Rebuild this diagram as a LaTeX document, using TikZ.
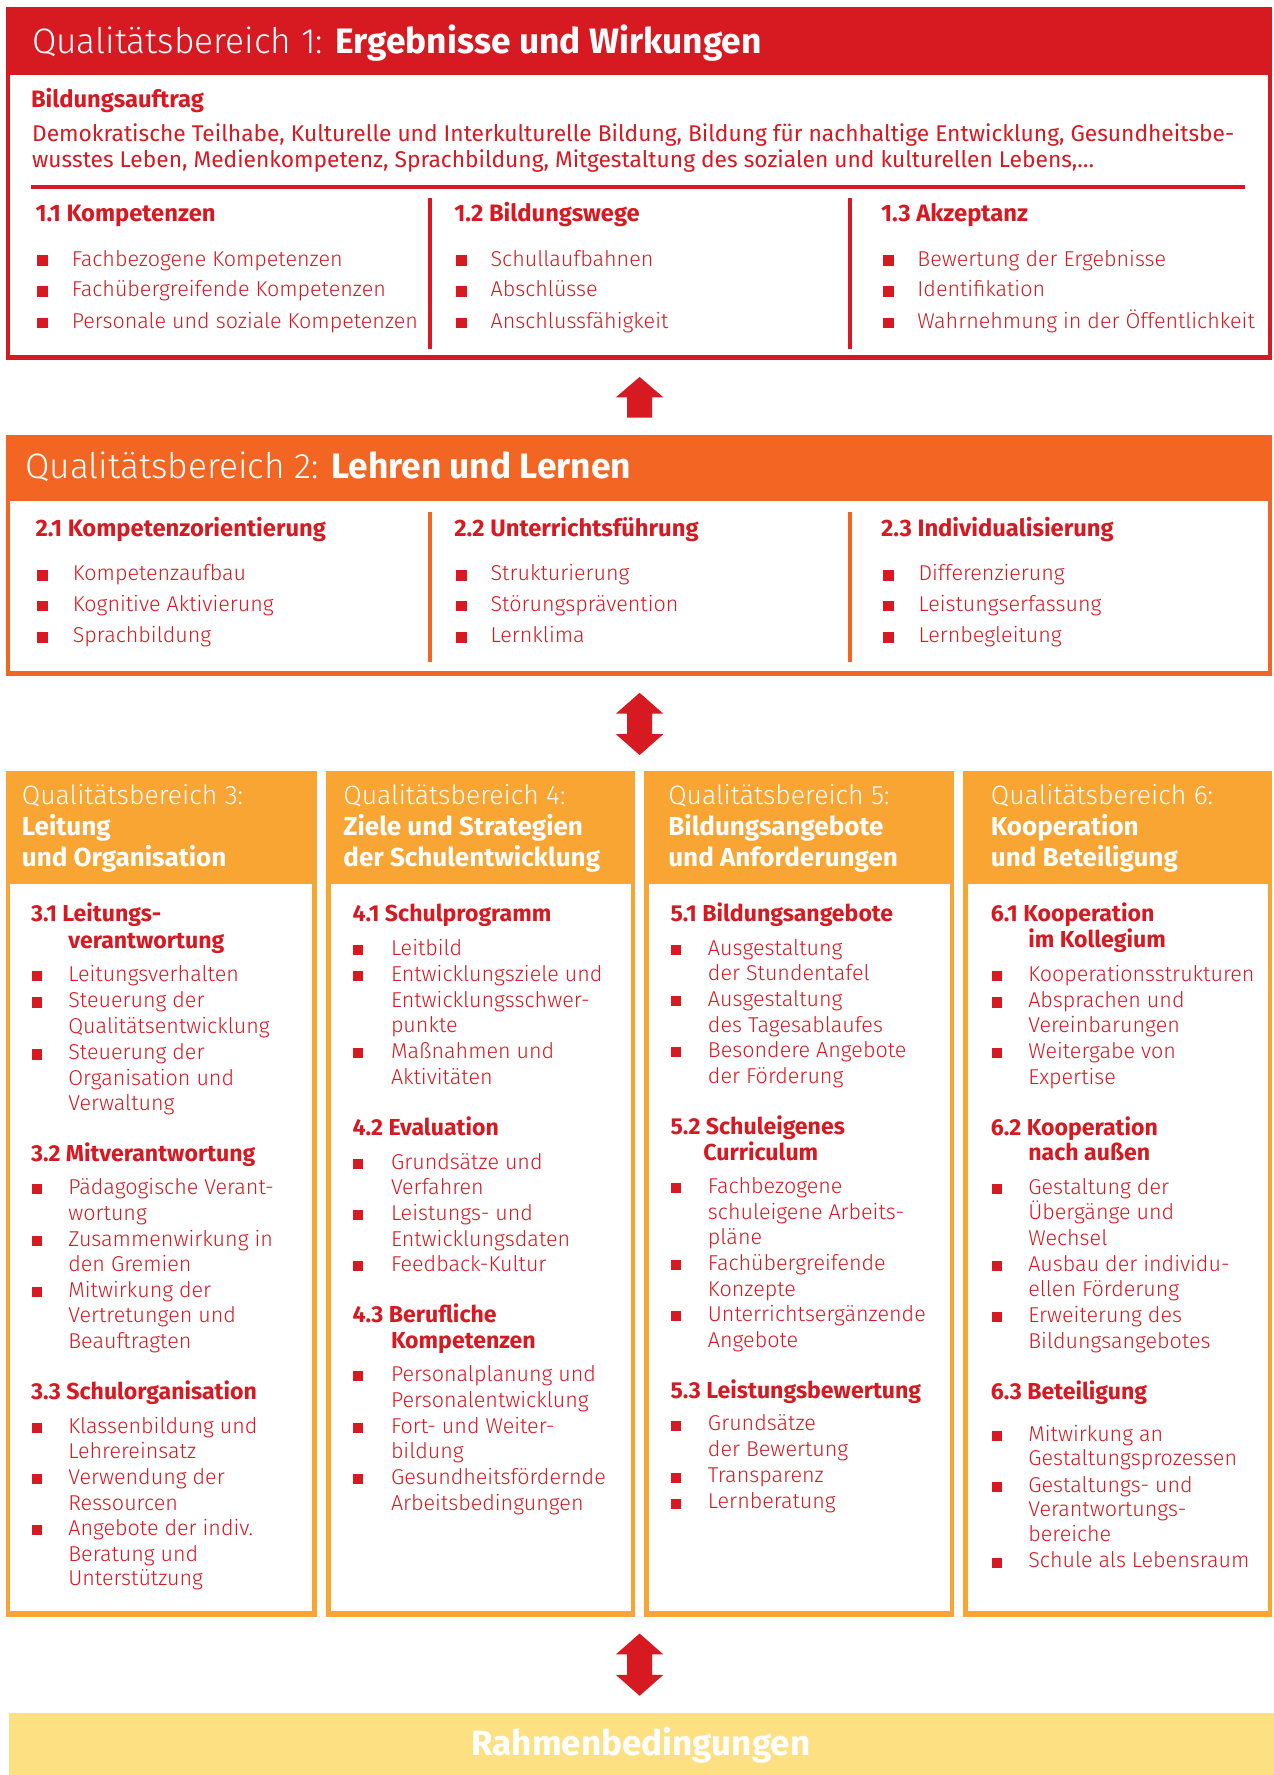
\documentclass[tikz,border=0pt]{standalone}
\usepackage{fontspec}
\setmainfont{Fira Sans}
\newfontfamily\qlight{Fira Sans Light}

\definecolor{qred}{RGB}{215,25,33}
\definecolor{qorange}{RGB}{242,101,34}
\definecolor{qamber}{RGB}{249,165,51}
\definecolor{qyellow}{RGB}{253,224,129}

\begin{document}
\begin{tikzpicture}[x=0.5pt, y=-0.5pt,
  every node/.style={inner sep=0pt, anchor=base west},
  qtitle/.style={text=white, font=\fontsize{15.6}{18}\selectfont},
  qsmalltitle/.style={text=white, font=\fontsize{11.5}{13}\selectfont\bfseries},
  qhead/.style={text=qred, font=\fontsize{10.5}{12}\selectfont\bfseries},
  qtext/.style={text=qred, font=\fontsize{9.5}{11}\selectfont\qlight},
  qsub/.style={text=qred, font=\fontsize{10.2}{12}\selectfont\bfseries},
  qitem/.style={text=qred, font=\fontsize{9.5}{11}\selectfont\qlight},
  rahmen/.style={anchor=base, text=white, font=\fontsize{15.5}{18}\selectfont\bfseries}]
\useasboundingbox (0,0) rectangle (1125,1568);

% Qualitaetsbereich 1
\fill[qred] (5,6) rectangle (1124,318);
\fill[white] (9,66) rectangle (1120,314);
\node[qtitle] (qb1) at (28,47) {{\qlight Qualitätsbereich 1:} \textbf{Ergebnisse und Wirkungen}};
\node[qhead] (auftrag) at (27,95) {Bildungsauftrag};
\node[qtext, font=\fontsize{10.05}{12}\selectfont] (auftrag1) at (28,125) {Demokratische Teilhabe, Kulturelle und Interkulturelle Bildung, Bildung für nachhaltige Entwicklung, Gesundheitsbe-};
\node[qtext, font=\fontsize{10.05}{12}\selectfont] (auftrag2) at (28,148) {wusstes Leben, Medienkompetenz, Sprachbildung, Mitgestaltung des sozialen und kulturellen Lebens,…};
\draw[qred, line width=2pt] (27,165) -- (1100,165);
\draw[qred, line width=2pt] (380,175) -- (380,308) (751,175) -- (751,308);
\node[qhead] (k11) at (31,196) {1.1 Kompetenzen};
\node[qhead] (k12) at (401,196) {1.2 Bildungswege};
\node[qhead] (k13) at (778,196) {1.3 Akzeptanz};
\foreach \x/\lbl in {63/Fachbezogene Kompetenzen, 433/Schullaufbahnen, 810/Bewertung der Ergebnisse}
  \node[qtext] (r1-\x) at (\x,235) {\lbl};
\foreach \x/\lbl in {63/Fachübergreifende Kompetenzen, 433/Abschlüsse, 810/Identifikation}
  \node[qtext] (r2-\x) at (\x,262) {\lbl};
\foreach \x/\lbl in {63/Personale und soziale Kompetenzen, 433/Anschlussfähigkeit, 810/Wahrnehmung in der Öffentlichkeit}
  \node[qtext] (r3-\x) at (\x,290) {\lbl};
\foreach \x in {33,403,780}
  \foreach \y in {235,262,290}
    \fill[qred] (\x,\y) rectangle ++(9.5,-9.5);

% Pfeil zwischen 2 und 1
\coordinate (arr1) at (565,333);
\fill[qred] (arr1) -- ++(21,18) -- ++(-10,0) -- ++(0,18) -- ++(-22,0) -- ++(0,-18) -- ++(-10,0) -- cycle;

% Qualitaetsbereich 2
\fill[qorange] (5,384) rectangle (1124,597);
\fill[white] (9,443) rectangle (1120,593);
\node[qtitle] (qb2) at (22,423) {{\qlight Qualitätsbereich 2:} \textbf{Lehren und Lernen}};
\draw[qorange, line width=2pt] (380,452) -- (380,585) (751,452) -- (751,585);
\node[qhead] (k21) at (31,474) {2.1 Kompetenzorientierung};
\node[qhead] (k22) at (401,474) {2.2 Unterrichtsführung};
\node[qhead] (k23) at (778,474) {2.3 Individualisierung};
\foreach \x/\lbl in {64/Kompetenzaufbau, 433/Strukturierung, 811/Differenzierung}
  \node[qtext] (s1-\x) at (\x,513) {\lbl};
\foreach \x/\lbl in {64/Kognitive Aktivierung, 433/Störungsprävention, 811/Leistungserfassung}
  \node[qtext] (s2-\x) at (\x,540) {\lbl};
\foreach \x/\lbl in {64/Sprachbildung, 433/Lernklima, 811/Lernbegleitung}
  \node[qtext] (s3-\x) at (\x,568) {\lbl};
\foreach \x in {33,403,780}
  \foreach \y in {513,540,568}
    \fill[qred] (\x,\y) rectangle ++(9.5,-9.5);

% Pfeile (beidseitig)
\coordinate (arr2) at (565,612);
\coordinate (arr3) at (565,1443);
\foreach \a in {arr2,arr3}
  \fill[qred] (\a) -- ++(21,18.5) -- ++(-10,0) -- ++(0,18) -- ++(10,0) -- ++(-21,18.5)
    -- ++(-21,-18.5) -- ++(10,0) -- ++(0,-18) -- ++(-10,0) -- cycle;

% Qualitaetsbereiche 3 bis 6
\foreach \x/\w in {5/280, 288/561, 569/843, 851/1124} {
  \fill[qamber] (\x,681) rectangle (\w,1428);
  \fill[white] (\x+4,781) rectangle (\w-4,1423);
}
\foreach \x/\n/\a/\b in {19/3/Leitung/und Organisation, 303/4/Ziele und Strategien/der Schulentwicklung,
    590/5/Bildungsangebote/und Anforderungen, 875/6/Kooperation/und Beteiligung} {
  \node[qsmalltitle, font=\fontsize{11.75}{13}\selectfont\qlight] (qb\n) at (\x,711) {Qualitätsbereich \n:};
  \node[qsmalltitle] (qb\n-a) at (\x,738) {\a};
  \node[qsmalltitle] (qb\n-b) at (\x,765) {\b};
}

% 3
\node[qsub] (h31) at (27,814) {3.1 Leitungs-};
\node[qsub] (h31b) at (60,838) {verantwortung};
\node[qsub] (h32) at (27,1026) {3.2 Mitverantwortung};
\node[qsub] (h33) at (27,1236) {3.3 Schulorganisation};
\foreach \y/\lbl in {867/Leitungsverhalten, 890/Steuerung der, 913/Qualitätsentwicklung, 936/Steuerung der,
    959/Organisation und, 981/Verwaltung, 1055/Pädagogische Verant-, 1078/wortung, 1101/Zusammenwirkung in,
    1123/den Gremien, 1146/Mitwirkung der, 1168/Vertretungen und, 1191/Beauftragten, 1266/Klassenbildung und,
    1288/Lehrereinsatz, 1311/Verwendung der, 1334/Ressourcen, 1356/Angebote der indiv., 1379/Beratung und,
    1401/Unterstützung}
  \node[qitem] (i3-\y) at (60,\y) {\lbl};
\foreach \y in {867,890,936,1055,1101,1146,1266,1311,1356}
  \fill[qred] (28,\y) rectangle ++(9,-9);

% 4
\node[qsub] (h41) at (311,814) {4.1 Schulprogramm};
\node[qsub] (h42) at (311,1003) {4.2 Evaluation};
\node[qsub] (h43) at (311,1168) {4.3 Berufliche};
\node[qsub] (h43b) at (345,1191) {Kompetenzen};
\foreach \y/\lbl in {844/Leitbild, 867/Entwicklungsziele und, 890/Entwicklungsschwer-, 912/punkte,
    935/Maßnahmen und, 958/Aktivitäten, 1033/Grundsätze und, 1055/Verfahren, 1078/Leistungs- und,
    1101/Entwicklungsdaten, 1123/Feedback-Kultur, 1220/Personalplanung und, 1243/Personalentwicklung,
    1266/Fort- und Weiter-, 1288/bildung, 1311/Gesundheitsfördernde, 1334/Arbeitsbedingungen}
  \node[qitem] (i4-\y) at (345,\y) {\lbl};
\foreach \y in {844,867,935,1033,1078,1123,1220,1266,1311}
  \fill[qred] (312,\y) rectangle ++(9,-9);

% 5
\node[qsub] (h51) at (592,814) {5.1 Bildungsangebote};
\node[qsub] (h52) at (592,1002) {5.2 Schuleigenes};
\node[qsub] (h52b) at (621,1025) {Curriculum};
\node[qsub] (h53) at (592,1235) {5.3 Leistungsbewertung};
\foreach \y/\lbl in {844/Ausgestaltung, 866/der Stundentafel, 889/Ausgestaltung, 912/des Tagesablaufes,
    934/Besondere Angebote, 957/der Förderung, 1054/Fachbezogene, 1077/schuleigene Arbeits-, 1099/pläne,
    1122/Fachübergreifende, 1145/Konzepte, 1167/Unterrichtsergänzende, 1190/Angebote, 1264/Grundsätze,
    1287/der Bewertung, 1310/Transparenz, 1333/Lernberatung}
  \node[qitem] (i5-\y) at (625,\y) {\lbl};
\foreach \y in {844,889,934,1054,1122,1167,1264,1310,1333}
  \fill[qred] (593,\y) rectangle ++(9,-9);

% 6
\node[qsub] (h61) at (875,814) {6.1 Kooperation};
\node[qsub] (h61b) at (908,837) {im Kollegium};
\node[qsub] (h62) at (875,1003) {6.2 Kooperation};
\node[qsub] (h62b) at (908,1025) {nach außen};
\node[qsub] (h63) at (875,1236) {6.3 Beteiligung};
\foreach \y/\lbl in {867/Kooperationsstrukturen, 890/Absprachen und, 912/Vereinbarungen, 935/Weitergabe von,
    958/Expertise, 1055/Gestaltung der, 1077/Übergänge und, 1100/Wechsel, 1123/Ausbau der individu-,
    1145/ellen Förderung, 1168/Erweiterung des, 1191/Bildungsangebotes, 1273/Mitwirkung an,
    1295/Gestaltungsprozessen, 1318/Gestaltungs- und, 1340/Verantwortungs-, 1362/bereiche,
    1385/Schule als Lebensraum}
  \node[qitem] (i6-\y) at (908,\y) {\lbl};
\foreach \y in {867,890,935,1055,1123,1168,1273,1318,1385}
  \fill[qred] (876,\y) rectangle ++(9,-9);

% Rahmenbedingungen
\fill[qyellow] (8,1513) rectangle (1125,1568);
\node[rahmen] (rb) at (566,1551) {Rahmenbedingungen};

\end{tikzpicture}
\end{document}
